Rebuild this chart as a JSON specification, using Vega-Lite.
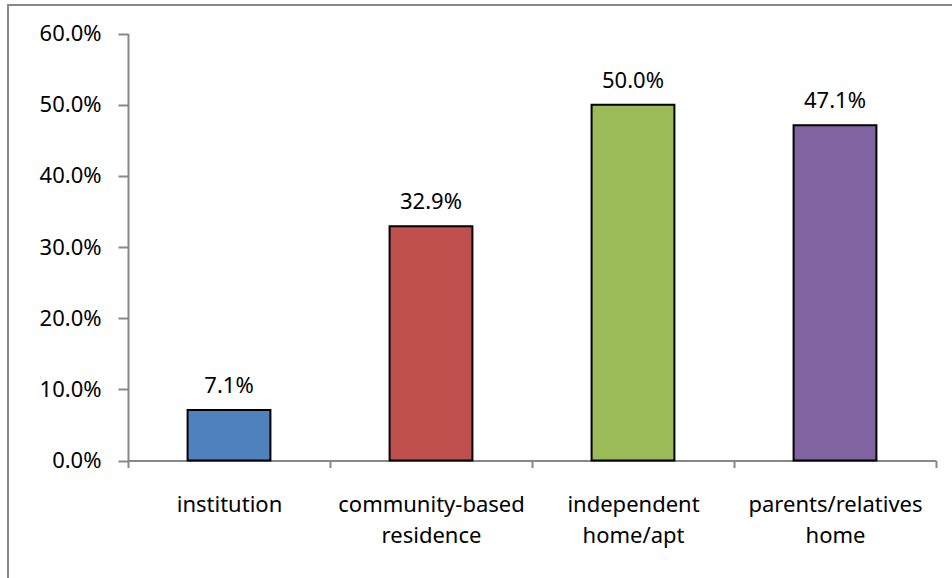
{
  "$schema": "https://vega.github.io/schema/vega-lite/v6.json",
  "width": 950,
  "height": 580,
  "padding": {"left": 8, "top": 5, "right": 0, "bottom": 0},
  "autosize": {"type": "none"},
  "background": "white",
  "config": {
    "view": {"stroke": "#888888", "strokeWidth": 2},
    "font": "Noto Sans",
    "axis": {
      "domainColor": "#888888",
      "tickColor": "#888888",
      "domainWidth": 2,
      "tickWidth": 2,
      "labelColor": "black",
      "labelFontSize": 22,
      "labelFont": "Noto Sans",
      "grid": false,
      "title": null
    }
  },
  "data": {
    "values": [
      {"residence": "institution", "share": 0.071},
      {"residence": "community-based residence", "share": 0.329},
      {"residence": "independent home/apt", "share": 0.5},
      {"residence": "parents/relatives home", "share": 0.471}
    ]
  },
  "encoding": {
    "x": {
      "field": "residence",
      "type": "nominal",
      "sort": null,
      "scale": {"range": [120, 928], "paddingInner": 0, "paddingOuter": 0},
      "axis": {
        "labelAngle": 0,
        "tickBand": "extent",
        "tickSize": 7,
        "labelPadding": 27,
        "offset": -124.5,
        "labelExpr": "split(datum.label, ' ')",
        "labelLineHeight": 31,
        "labelLimit": 0
      }
    },
    "y": {
      "field": "share",
      "type": "quantitative",
      "scale": {"domain": [0, 0.6], "range": [455.5, 28.5], "nice": false},
      "axis": {
        "values": [0, 0.1, 0.2, 0.3, 0.4, 0.5, 0.6],
        "format": ".1%",
        "tickSize": 10,
        "labelPadding": 17,
        "offset": -120
      }
    }
  },
  "layer": [
    {
      "mark": {"type": "bar", "width": {"band": 0.41}, "stroke": "black", "strokeWidth": 2},
      "encoding": {
        "color": {
          "field": "residence",
          "type": "nominal",
          "sort": null,
          "scale": {
            "domain": ["institution", "community-based residence", "independent home/apt", "parents/relatives home"],
            "range": ["#4F81BD", "#C0504D", "#9BBB59", "#8064A2"]
          },
          "legend": null
        }
      }
    },
    {
      "mark": {"type": "text", "dy": -17, "baseline": "alphabetic", "fontSize": 22, "font": "Noto Sans", "color": "black"},
      "encoding": {
        "text": {"field": "share", "type": "quantitative", "format": ".1%"}
      }
    }
  ]
}
